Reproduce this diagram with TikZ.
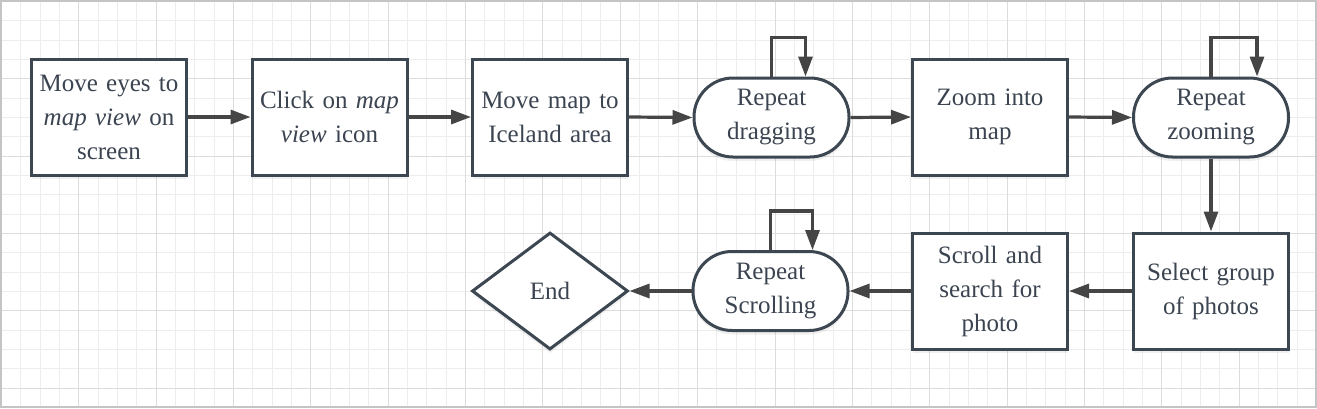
\documentclass[tikz,border=0pt]{standalone}
\usepackage{fontspec}
\setmainfont{Liberation Serif}
\usetikzlibrary{arrows.meta,shapes.geometric,shadows,calc}
\definecolor{boxline}{HTML}{3D4752}
\definecolor{arrowline}{HTML}{454545}
\definecolor{boxtext}{HTML}{3B4450}
\definecolor{gridminor}{HTML}{EDEDED}
\definecolor{gridmajor}{HTML}{DCDCDC}
\definecolor{framegray}{HTML}{C4C4C4}

\begin{document}
\begin{tikzpicture}[
    x=1pt, y=-1pt,
    every node/.style={text=boxtext, font=\fontsize{25}{34}\selectfont},
    process/.style={rectangle, draw=boxline, line width=3pt, fill=white,
        minimum width=155pt, minimum height=116pt, inner sep=0pt,
        text width=150pt, align=center,
        drop shadow={shadow xshift=0pt, shadow yshift=-4pt, opacity=.12}},
    loopbox/.style={process, minimum height=79pt, rounded corners=39pt},
    endbox/.style={diamond, draw=boxline, line width=3pt, fill=white,
        minimum width=156pt, minimum height=117pt, inner sep=0pt,
        drop shadow={shadow xshift=0pt, shadow yshift=-4pt, opacity=.12}},
    flow/.style={draw=arrowline, line width=3.2pt,
        -{Triangle[length=20pt,width=14pt]}}
    ]
    \useasboundingbox (0,0) rectangle (1317,408);
    % Grid
    \foreach \i in {0,...,68}
        \draw[gridminor, line width=1pt] (1.4+\i*19.34,0) -- (1.4+\i*19.34,408);
    \foreach \j in {0,...,21}
        \draw[gridminor, line width=1pt] (0,1.4+\j*19.34) -- (1317,1.4+\j*19.34);
    \foreach \i in {0,4,...,68}
        \draw[gridmajor, line width=1pt] (1.4+\i*19.34,0) -- (1.4+\i*19.34,408);
    \foreach \j in {0,4,...,20}
        \draw[gridmajor, line width=1pt] (0,1.4+\j*19.34) -- (1317,1.4+\j*19.34);
    \draw[framegray, line width=2pt] (1,1) rectangle (1316,407);
    % First row
    \node[process] (eyes) at (109,117) {Move eyes to\\ \textit{map view} on\\ screen};
    \node[process] (click) at (329.5,117) {Click on \textit{map}\\ \textit{view} icon};
    \node[process] (iceland) at (550,117) {Move map to\\ Iceland area};
    \node[loopbox] (drag) at (771.5,117.5) {Repeat\\ dragging};
    \node[process] (zoom) at (990,117) {Zoom into\\ map};
    \node[loopbox] (zoomrep) at (1211,117.5) {Repeat\\ zooming};
    % Second row
    \node[process] (select) at (1211,291) {Select group\\ of photos};
    \node[process] (scroll) at (990,291) {Scroll and\\ search for\\ photo};
    \node[loopbox] (scrollrep) at (770.5,291) {Repeat\\ Scrolling};
    \node[endbox] (end) at (550,291) {End};
    % Connectors
    \draw[flow] (eyes.east) -- (click.west);
    \draw[flow] (click.east) -- (iceland.west);
    \draw[flow] (iceland.east) -- (drag.west);
    \draw[flow] (drag.east) -- (zoom.west);
    \draw[flow] (zoom.east) -- (zoomrep.west);
    \draw[flow] (zoomrep.south) -- (select.north);
    \draw[flow] (select.west) -- (scroll.east);
    \draw[flow] (scroll.west) -- (scrollrep.east);
    \draw[flow] (scrollrep.west) -- (end.east);
    % Self loops
    \draw[flow] (drag.north) -- ++(0,-39) -| ($(drag.north)+(34,0)$);
    \draw[flow] (zoomrep.north) -- ++(0,-39) -| ($(zoomrep.north)+(46,0)$);
    \draw[flow] (scrollrep.north) -- ++(0,-39) -| ($(scrollrep.north)+(42,0)$);
\end{tikzpicture}
\end{document}
